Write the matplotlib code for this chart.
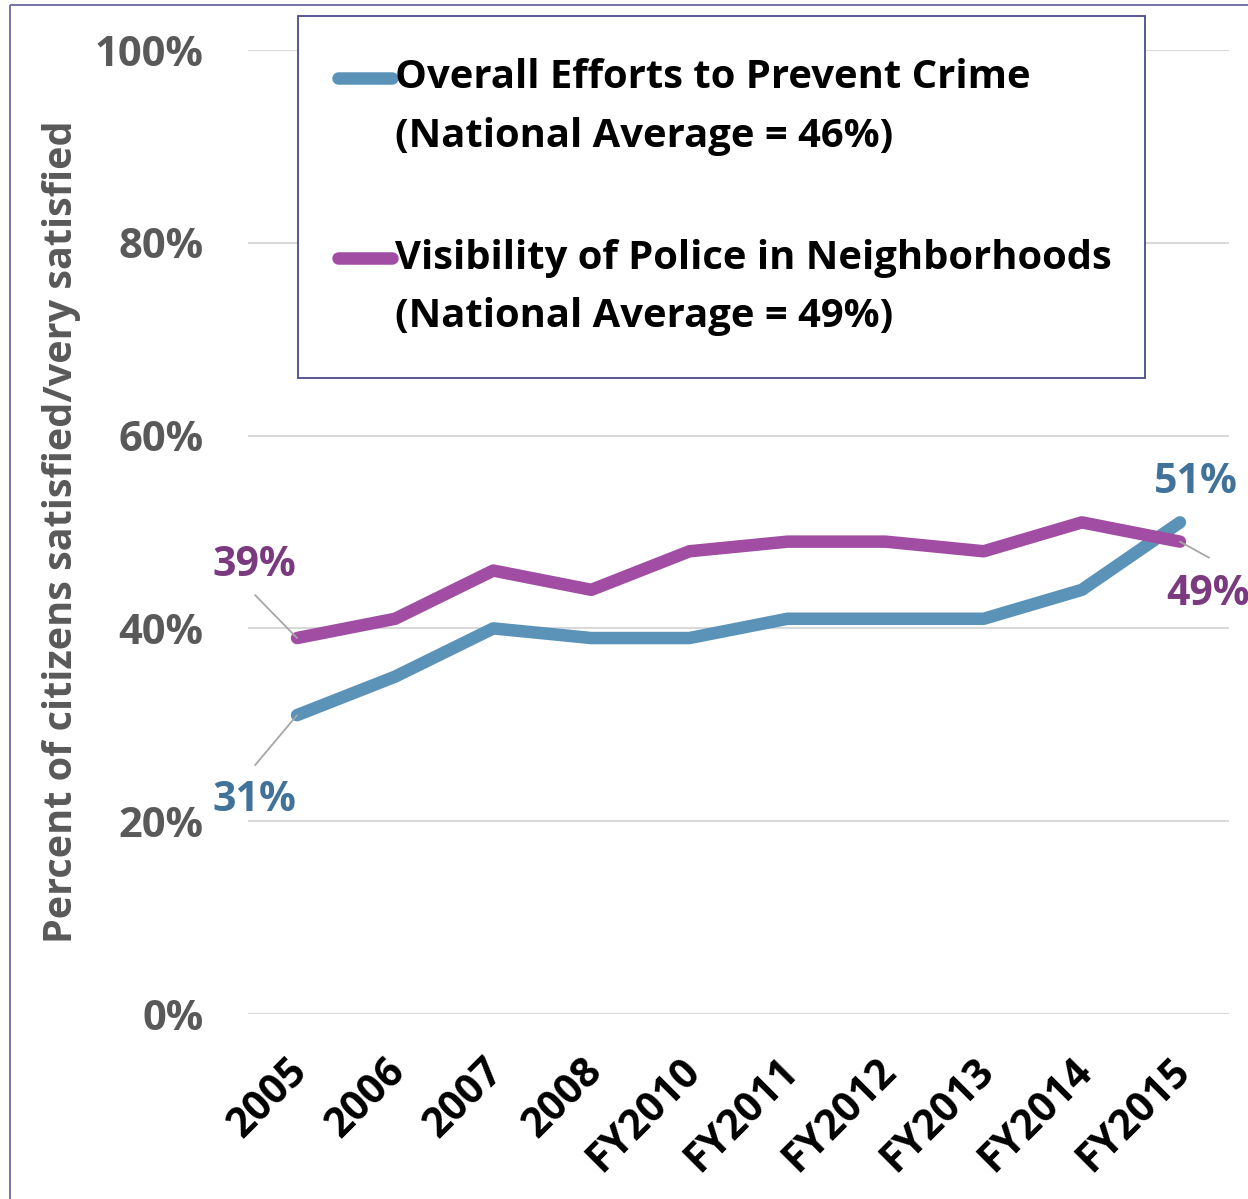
import matplotlib
matplotlib.use("Agg")
import matplotlib.pyplot as plt
from matplotlib.lines import Line2D
from matplotlib.patches import Rectangle
from matplotlib.transforms import Affine2D, ScaledTranslation

plt.rcParams['font.family'] = ['Open Sans', 'DejaVu Sans']
plt.rcParams['font.weight'] = 'bold'

categories = ["2005", "2006", "2007", "2008", "FY2010", "FY2011", "FY2012", "FY2013", "FY2014", "FY2015"]
overall_crime = [31, 35, 40, 39, 39, 41, 41, 41, 44, 51]
police_visibility = [39, 41, 46, 44, 48, 49, 49, 48, 51, 49]
series_names = [["Overall Efforts to Prevent Crime", "(National Average = 46%)"],
                ["Visibility of Police in Neighborhoods", "(National Average = 49%)"]]
y_ticks = [0, 20, 40, 60, 80, 100]

BLUE = "#5B93B8"
PURPLE = "#A04DA3"
BLUE_TXT = "#41729A"
PURPLE_TXT = "#7B3A80"
GRAY = "#595959"

W, H = 1248, 1199
fig = plt.figure(figsize=(W / 100, H / 100), dpi=100)
# pixel transform with origin at top-left
pix = Affine2D().scale(1.0, -1.0).translate(0, H)

ax = fig.add_axes([248 / W, 1 - 1014 / H, (1229 - 248) / W, (1014 - 50) / H])

x = list(range(len(categories)))
ax.plot(x, overall_crime, color=BLUE, lw=9, solid_capstyle='round', solid_joinstyle='round', zorder=3)
ax.plot(x, police_visibility, color=PURPLE, lw=9, solid_capstyle='round', solid_joinstyle='round', zorder=3)

ax.set_xlim(-0.5, len(categories) - 0.5)
ax.set_ylim(0, 100)
ax.set_yticks(y_ticks)
ax.set_yticklabels([f"{v}%" for v in y_ticks], fontsize=30, color=GRAY, fontweight='bold')
ax.set_xticks(x)
ax.set_xticklabels(categories, rotation=45, ha='right', rotation_mode='anchor',
                   fontsize=29.5, color='black', fontweight='bold')
ax.tick_params(axis='both', length=0)
ax.tick_params(axis='y', pad=32)
ax.tick_params(axis='x', pad=18)
shift = ScaledTranslation(-10 / 100, -12 / 100, fig.dpi_scale_trans)
for lbl in ax.get_xticklabels():
    lbl.set_transform(lbl.get_transform() + shift)
ax.grid(axis='y', color='#D9D9D9', lw=1.5)
ax.set_axisbelow(True)
for s in ax.spines.values():
    s.set_visible(False)

fig.text(62 / W, 1 - 532 / H, "Percent of citizens satisfied/very satisfied", rotation=90,
         ha='center', va='center', fontsize=28.5, color=GRAY, fontweight='bold')

# data labels with leader lines
def label(xi, yi, text, color, txt_off, line_off=None):
    if line_off is not None:
        ax.annotate('', xy=(xi, yi), xytext=line_off, textcoords='offset pixels',
                    arrowprops=dict(arrowstyle='-', color='#A6A6A6', lw=1.3, shrinkA=0, shrinkB=0), zorder=4)
    ax.annotate(text, xy=(xi, yi), xytext=txt_off, textcoords='offset pixels',
                ha='center', va='center', fontsize=29.5, color=color, fontweight='bold')

label(0, police_visibility[0], f"{police_visibility[0]}%", PURPLE_TXT, (-43, 73), (-42, 43))
label(0, overall_crime[0], f"{overall_crime[0]}%", BLUE_TXT, (-43, -85), (-42, -50))
label(9, overall_crime[9], f"{overall_crime[9]}%", BLUE_TXT, (16, 40))
label(9, police_visibility[9], f"{police_visibility[9]}%", PURPLE_TXT, (28, -53), (29, -16))

# manual legend
fig.patches.append(Rectangle((298, 16), 1145 - 298, 378 - 16, transform=pix,
                             fill=True, facecolor='white', edgecolor='#4A4A8C', lw=1.3, zorder=5))
for color, lines, yc in [(BLUE, series_names[0], 78), (PURPLE, series_names[1], 258)]:
    fig.lines.append(Line2D([338, 392], [yc, yc], transform=pix, color=color, lw=9,
                            solid_capstyle='round', zorder=6))
    for i, t in enumerate(lines):
        fig.text(395, yc + i * 58, t, transform=pix, ha='left', va='center',
                 fontsize=28.8, color='black', fontweight='bold', zorder=6)

# figure frame
fig.patches.append(Rectangle((10, 5), 1400, 1400, transform=pix, fill=False,
                             edgecolor='#6B6BA0', lw=1.3))

fig.savefig("out.png", dpi=100)
